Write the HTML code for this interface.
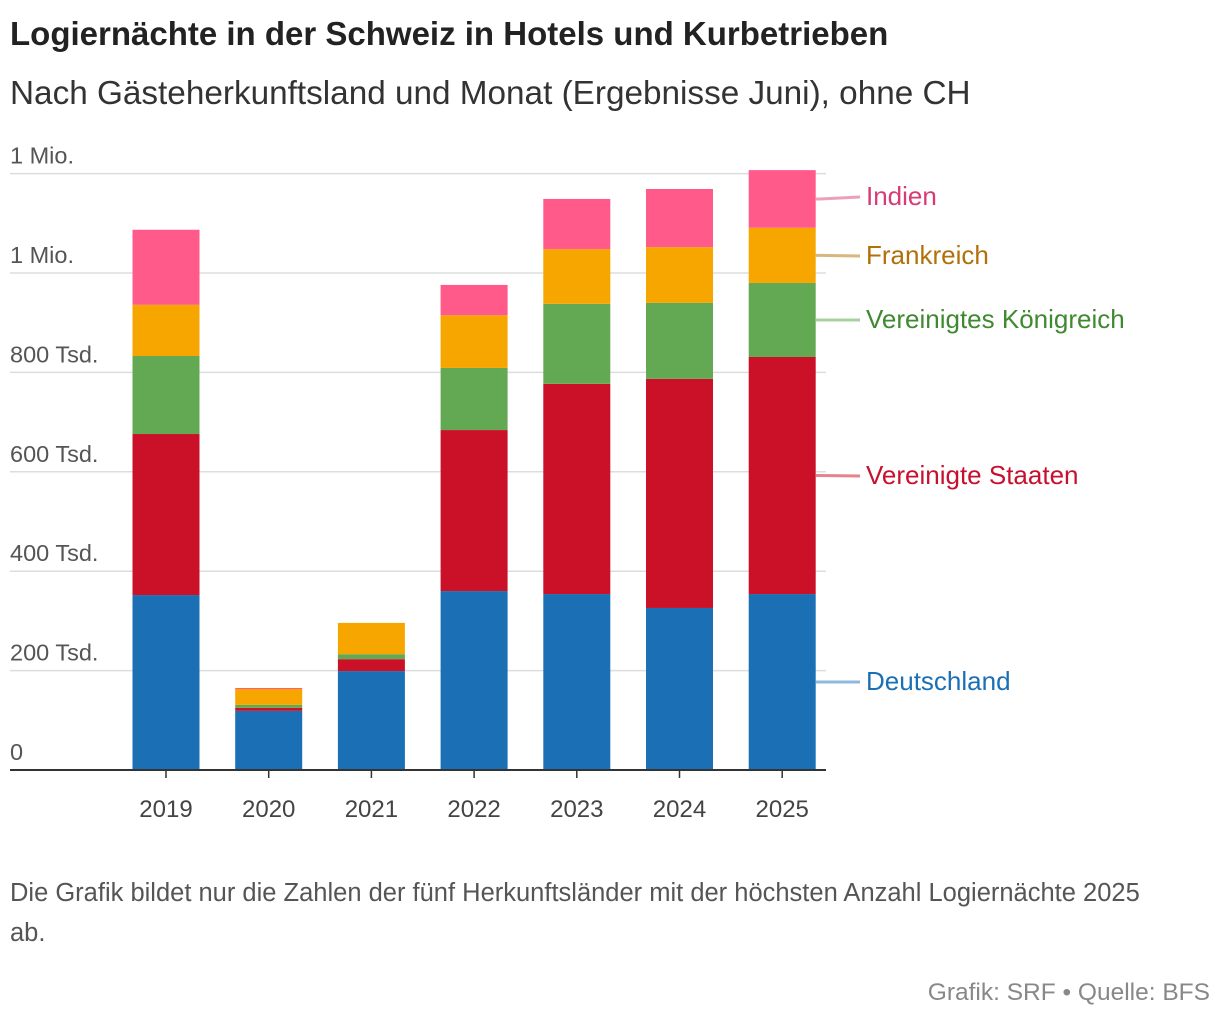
<!DOCTYPE html>
<html><head><meta charset="utf-8"><style>
body{margin:0;background:#fff;font-family:"Liberation Sans",sans-serif;}
#wrap{position:relative;width:1220px;height:1024px;overflow:hidden}
.t{position:absolute;white-space:nowrap}
</style></head><body><div id="wrap">
<div class="t" style="left:10px;top:15px;font-size:33px;font-weight:bold;color:#222">Logiernächte in der Schweiz in Hotels und Kurbetrieben</div>
<div class="t" style="left:10px;top:75px;font-size:33.3px;color:#333">Nach Gästeherkunftsland und Monat (Ergebnisse Juni), ohne CH</div>
<svg id="chart" width="1220" height="860" style="position:absolute;left:0;top:0"></svg>
<div class="t" style="left:10px;top:873px;font-size:25.5px;color:#555;line-height:40px;">Die Grafik bildet nur die Zahlen der fünf Herkunftsländer mit der höchsten Anzahl Logiernächte 2025<br>ab.</div>
<div class="t" style="right:10px;top:979px;font-size:24.5px;color:#888">Grafik: SRF • Quelle: BFS</div>
</div>
<script>
const years=["2019","2020","2021","2022","2023","2024","2025"];
const seriesNames=["Deutschland","Vereinigte Staaten","Vereinigtes Königreich","Frankreich","Indien"];
const deutschland=[352,119,199,360,354,326,354];
const usa=[324,6,24,324,423,461,477];
const uk=[157,6,10,125,161,153,149];
const frankreich=[103,32,63,106,110,112,111];
const indien=[151,2,0,61,101,117,116];
const yTicks=[0,200,400,600,800,1000,1200];
const yTickLabels=["0","200 Tsd.","400 Tsd.","600 Tsd.","800 Tsd.","1 Mio.","1 Mio."];
const series=[deutschland,usa,uk,frankreich,indien];
const colors=["#1a6fb5","#cb1128","#63a953","#f7a600","#ff5a8a"];
const lineColors=["#8fb8dc","#e5828f","#a9d0a0","#d8b77a","#eea0ba"];
const textColors=["#1a6fb5","#c8102e","#3f8a30","#b0700a","#d83a73"];
const svg=document.getElementById('chart');const NS="http://www.w3.org/2000/svg";
const y0=770,pxPer=99.4/200,x0=166,step=102.7,bw=67;
const Y=v=>y0-v*pxPer, X=i=>x0+i*step;
function mk(t,a,txt){const e=document.createElementNS(NS,t);for(const k in a)e.setAttribute(k,a[k]);if(txt!==undefined)e.textContent=txt;svg.appendChild(e);return e;}
yTicks.forEach((v,i)=>{
 if(v>0){const g=mk('line',{x1:10,x2:826,y1:Y(v),y2:Y(v),stroke:'#ddd','stroke-width':1.5});
 }
 const t=mk('text',{x:10,y:Y(v)-10,'font-size':23.5,fill:'#555'},yTickLabels[i]);
 
});
years.forEach((yr,i)=>{
 let cum=0;
 series.forEach((s,j)=>{const v=s[i];if(v<=0)return;
  const r=mk('rect',{x:X(i)-bw/2,y:Y(cum+v),width:bw,height:v*pxPer,fill:colors[j]});
  cum+=v;});
 const tk=mk('line',{x1:X(i),x2:X(i),y1:y0,y2:y0+8,stroke:'#333','stroke-width':1.5});
 
 const t=mk('text',{x:X(i),y:y0+47,'font-size':24,fill:'#444','text-anchor':'middle'},yr);
 
});
const ax=mk('line',{x1:10,x2:826,y1:y0,y2:y0,stroke:'#333','stroke-width':2});

const last=years.length-1;let cum=0;
const labelY=[682,476,320,256,197];
series.forEach((s,j)=>{const mid=cum+s[last]/2;cum+=s[last];
 const ly=labelY[j];
 const p=mk('polyline',{points:(X(last)+bw/2)+','+Y(mid)+' 820,'+Y(mid)+' 860,'+ly,fill:'none',stroke:lineColors[j],'stroke-width':3});
 
 const t=mk('text',{x:866,y:ly+8,'font-size':26,fill:textColors[j]},seriesNames[j]);
 
});
</script></body></html>
